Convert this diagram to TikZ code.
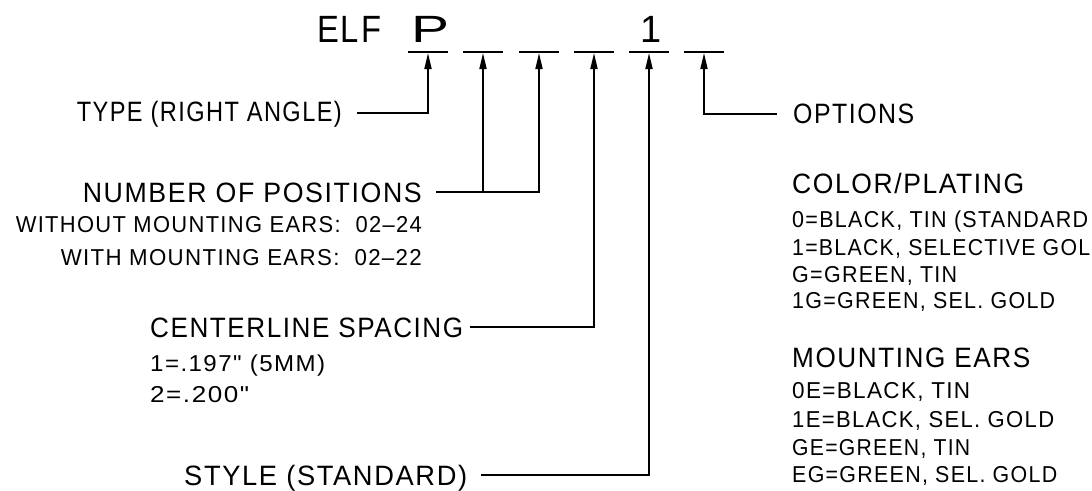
\documentclass[tikz,border=0pt]{standalone}
\usepackage{fontspec}
\setmainfont{Liberation Sans}
\newfontfamily\lsp[LetterSpace=6]{Liberation Sans}
\usepackage{graphicx}
\usetikzlibrary{arrows.meta}
\newcommand\fitw[2]{\resizebox{#1pt}{\height}{#2}}
\begin{document}
\begin{tikzpicture}[x=1pt,y=-1pt,
  lbl/.style={inner sep=0pt, font=\lsp\fontsize{28}{30}\selectfont},
  big/.style={inner sep=0pt, font=\lsp\fontsize{38}{40}\selectfont},
  sub/.style={inner sep=0pt, font=\lsp\fontsize{23}{26}\selectfont},
  conn/.style={line width=1.8pt, -{Triangle[length=16pt,width=7pt]}},
  bar/.style={line width=1.8pt}]
\useasboundingbox (0,0) rectangle (1092,490);
\clip (0,0) rectangle (1092,490);
\fill[white] (0,0) rectangle (1092,490);

% part number
\node[big, anchor=base west] (elf) at (317,42) {\fitw{64}{ELF}};
\node[big, anchor=base] (p) at (430,42) {\fitw{38}{P}};
\node[big, anchor=base] (one) at (651,42) {1};

% slots
\foreach \i/\cx in {1/428,2/483,3/539,4/594,5/649,6/704}{
  \coordinate (s\i) at (\cx,53);
  \draw[bar] (\cx-20,52) -- (\cx+20,52);
}

% left labels
\node[lbl, anchor=base east] (type) at (342,121) {\fitw{265}{TYPE (RIGHT ANGLE)}};
\node[lbl, anchor=base east] (npos) at (422,202) {\fitw{339}{NUMBER OF POSITIONS}};
\node[sub, anchor=base east] (nposa) at (422,232) {\fitw{406}{WITHOUT MOUNTING EARS:\ \ 02–24}};
\node[sub, anchor=base east] (nposb) at (422,265) {\fitw{361}{WITH MOUNTING EARS:\ \ 02–22}};
\node[lbl, anchor=base west] (cl) at (150,337) {\fitw{313}{CENTERLINE SPACING}};
\node[sub, anchor=base west] (cla) at (150,371) {\fitw{175}{1=.197"\ (5MM)}};
\node[sub, anchor=base west] (clb) at (150,402) {\fitw{99}{2=.200"}};
\node[lbl, anchor=base west] (sty) at (184,485) {\fitw{283}{STYLE (STANDARD)}};

% right labels
\node[lbl, anchor=base west] (opt) at (793,123) {\fitw{121}{OPTIONS}};
\node[lbl, anchor=base west] (col) at (792,193) {\fitw{232}{COLOR/PLATING}};
\node[sub, anchor=base west] (c0) at (792,227) {\fitw{296}{0=BLACK, TIN (STANDARD}};
\node[sub, anchor=base west] (c1) at (792,255) {\fitw{298}{1=BLACK, SELECTIVE GOL}};
\node[sub, anchor=base west] (c2) at (792,282) {\fitw{165}{G=GREEN, TIN}};
\node[sub, anchor=base west] (c3) at (792,308) {\fitw{263}{1G=GREEN, SEL. GOLD}};
\node[lbl, anchor=base west] (mnt) at (792,367) {\fitw{238}{MOUNTING EARS}};
\node[sub, anchor=base west] (m0) at (792,398) {\fitw{178}{0E=BLACK, TIN}};
\node[sub, anchor=base west] (m1) at (792,427) {\fitw{262}{1E=BLACK, SEL. GOLD}};
\node[sub, anchor=base west] (m2) at (792,455) {\fitw{178}{GE=GREEN, TIN}};
\node[sub, anchor=base west] (m3) at (792,482) {\fitw{265}{EG=GREEN, SEL. GOLD}};

% connector start points
\coordinate (tA) at (357,113);
\coordinate (nA) at (436,192);
\coordinate (nB) at (483,192);
\coordinate (cA) at (470,327);
\coordinate (yA) at (481,475);
\coordinate (oA) at (777,114);

\draw[conn] (tA) -| (s1);
\draw[conn] (nA) -| (s3);
\draw[conn] (nB) -- (s2);
\draw[conn] (cA) -| (s4);
\draw[conn] (yA) -| (s5);
\draw[conn] (oA) -| (s6);
\end{tikzpicture}
\end{document}
